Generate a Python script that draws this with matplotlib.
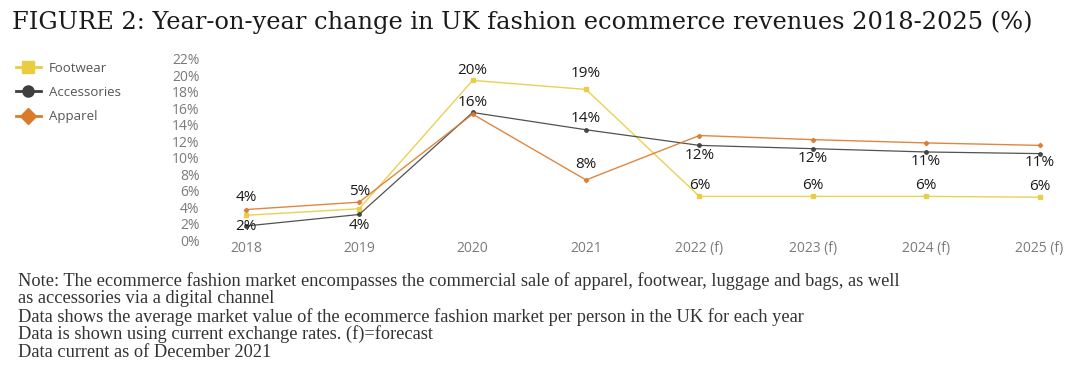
import numpy as np
import matplotlib
matplotlib.use("Agg")
import matplotlib.pyplot as plt
from matplotlib.lines import Line2D

years = ["2018", "2019", "2020", "2021", "2022 (f)", "2023 (f)", "2024 (f)", "2025 (f)"]

footwear = [3.0, 3.8, 19.4, 18.3, 5.3, 5.3, 5.3, 5.2]
accessories = [1.7, 3.1, 15.5, 13.4, 11.5, 11.1, 10.7, 10.5]
apparel = [3.7, 4.6, 15.3, 7.3, 12.7, 12.2, 11.8, 11.5]

footwear_labels = [None, None, "20%", "19%", "6%", "6%", "6%", "6%"]
accessories_labels = ["2%", "4%", "16%", "14%", "12%", "12%", "11%", "11%"]
apparel_labels = ["4%", "5%", None, "8%", None, None, None, None]

yticks = list(range(0, 24, 2))

note_lines = [
    "Note: The ecommerce fashion market encompasses the commercial sale of apparel, footwear, luggage and bags, as well",
    "as accessories via a digital channel",
    "Data shows the average market value of the ecommerce fashion market per person in the UK for each year",
    "Data is shown using current exchange rates. (f)=forecast",
    "Data current as of December 2021",
]

YELLOW = "#E9CC3F"
GREY = "#3F3F3F"
ORANGE = "#DC7A2C"

fig = plt.figure(figsize=(10.8, 3.68), dpi=100)
ax = fig.add_axes([205 / 1080, 1 - 240 / 368, 855 / 1080, 181 / 368])

x = np.arange(len(years))
ax.plot(x, footwear, color=YELLOW, lw=1.0, marker="s", ms=2.5, alpha=0.9)
ax.plot(x, accessories, color=GREY, lw=0.9, marker="o", ms=2.5, alpha=0.9)
ax.plot(x, apparel, color=ORANGE, lw=1.0, marker="D", ms=2.2, alpha=0.9)


def add_labels(values, labels, offsets):
    for i, (v, lab) in enumerate(zip(values, labels)):
        if lab is None:
            continue
        ax.annotate(lab, (x[i], v), xytext=(0, offsets[i]), textcoords="offset pixels",
                    ha="center", va="center", fontsize=11, color="#1a1a1a",
                    family="Open Sans")


add_labels(footwear, footwear_labels, [12, 12, 10, 16, 11, 11, 11, 11])
add_labels(accessories, accessories_labels, [0, -11, 10, 11, -10, -10, -10, -9])
add_labels(apparel, apparel_labels, [12, 11, 11, 15, 11, 11, 11, 11])

ax.set_xlim(-0.36, 7.18)
ax.set_ylim(0, 22)
ax.set_xticks(x)
ax.set_xticklabels(years)
ax.set_yticks(yticks)
ax.set_yticklabels([f"{t}%" for t in yticks])
ax.tick_params(length=0, labelsize=10, labelcolor="#7a7a7a", pad=4)
ax.tick_params(axis="x", pad=1)
for lab in ax.get_xticklabels() + ax.get_yticklabels():
    lab.set_family("Open Sans")
ax.set_frame_on(False)

handles = [
    Line2D([], [], color=YELLOW, marker="s", ms=8, lw=2),
    Line2D([], [], color=GREY, marker="o", ms=8, lw=2),
    Line2D([], [], color=ORANGE, marker="D", ms=8, lw=2),
]
fig.legend(handles, ["Footwear", "Accessories", "Apparel"], loc="upper left",
           bbox_to_anchor=(4 / 1080, 1 - 50 / 368), frameon=False, handlelength=1.9,
           handletextpad=0.6, labelspacing=0.85, prop={"family": "Open Sans", "size": 9.5},
           labelcolor="#555555")

fig.text(12 / 1080, 1 - 22 / 368, "FIGURE 2: Year-on-year change in UK fashion ecommerce revenues 2018-2025 (%)",
         fontsize=17.4, family="DejaVu Serif", color="#1a1a1a", va="center")

for i, line in enumerate(note_lines):
    fig.text(18 / 1080, 1 - (281 + 17.8 * i) / 368, line, fontsize=13.2, family="Liberation Serif",
             color="#333333", va="center")

fig.savefig("out.png", dpi=100)
